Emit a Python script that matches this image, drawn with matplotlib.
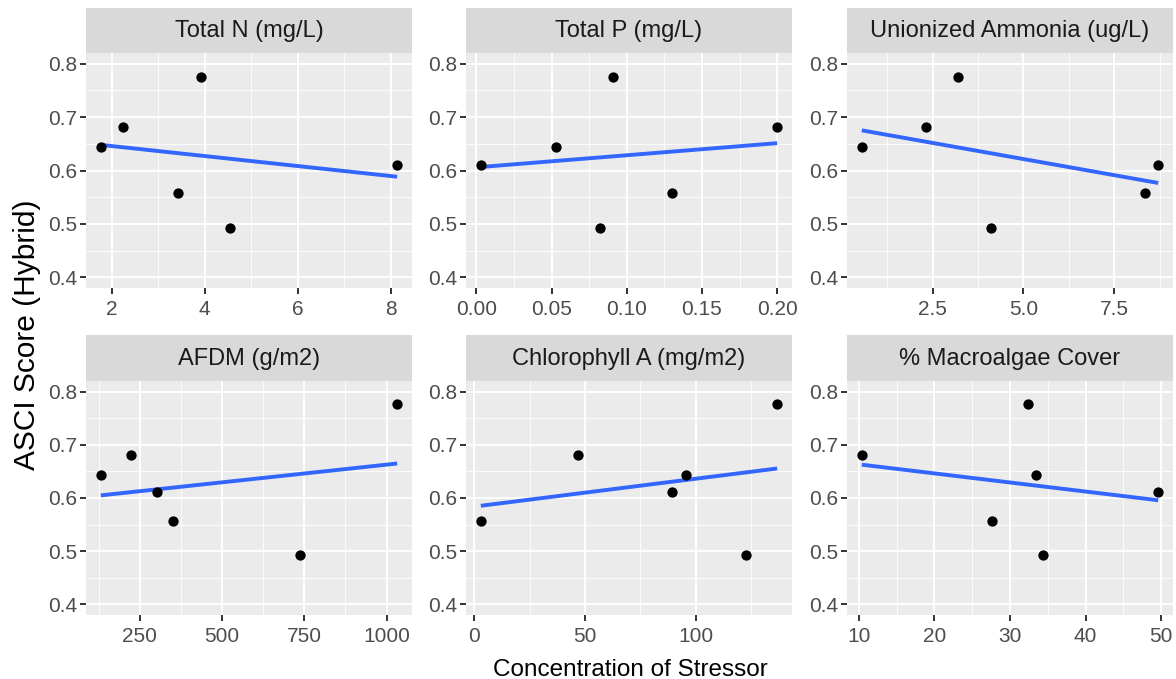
import numpy as np
import matplotlib
matplotlib.use("Agg")
import matplotlib.pyplot as plt
from matplotlib.ticker import MultipleLocator, FormatStrFormatter

plt.rcParams['font.family'] = ['Liberation Sans', 'DejaVu Sans']

# ASCI score for the six sites (same in every panel)
asci = [0.776, 0.681, 0.644, 0.611, 0.557, 0.493]

titles = ["Total N (mg/L)", "Total P (mg/L)", "Unionized Ammonia (ug/L)",
          "AFDM (g/m2)", "Chlorophyll A (mg/m2)", "% Macroalgae Cover"]

total_n = [3.93, 2.25, 1.77, 8.14, 3.43, 4.54]
total_p = [0.091, 0.200, 0.053, 0.003, 0.130, 0.082]
ammonia = [3.21, 2.33, 0.55, 8.71, 8.34, 4.10]
afdm = [1032, 225, 132, 304, 351, 736]
chl_a = [136.8, 46.9, 95.8, 89.2, 3.0, 122.6]
macro = [32.4, 10.4, 33.4, 49.6, 27.6, 34.3]

stressors = [total_n, total_p, ammonia, afdm, chl_a, macro]
tick_steps = [2, 0.05, 2.5, 250, 50, 10]
tick_fmts = ["%d", "%.2f", "%.1f", "%d", "%d", "%d"]

W, H = 1176, 679
fig = plt.figure(figsize=(W / 100, H / 100), dpi=100)

cols = [(86, 412), (466, 792), (847, 1173)]
rows = [(8, 53, 288), (335, 381, 615)]  # strip top, plot top, plot bottom

for i in range(6):
    r, c = divmod(i, 3)
    x0, x1 = cols[c]
    st, pt, pb = rows[r]
    ax = fig.add_axes([x0 / W, 1 - pb / H, (x1 - x0) / W, (pb - pt) / H])
    strip = fig.add_axes([x0 / W, 1 - pt / H, (x1 - x0) / W, (pt - st) / H])
    strip.set_facecolor("#D9D9D9")
    strip.set_xticks([]); strip.set_yticks([])
    for s in strip.spines.values():
        s.set_visible(False)
    strip.text(0.5, 0.48, titles[i], ha="center", va="center",
               fontsize=17, color="#1A1A1A", transform=strip.transAxes)

    x = np.array(stressors[i], dtype=float)
    y = np.array(asci)
    ax.set_facecolor("#EBEBEB")
    ax.scatter(x, y, s=55, color="black", zorder=3, linewidths=0)
    k, b = np.polyfit(x, y, 1)
    xs = np.array([x.min(), x.max()])
    ax.plot(xs, k * xs + b, color="#3366FF", lw=2.8, zorder=2,
            solid_capstyle="butt")

    rng = x.max() - x.min()
    ax.set_xlim(x.min() - 0.05 * rng, x.max() + 0.05 * rng)
    ax.set_ylim(0.38, 0.82)
    ax.xaxis.set_major_locator(MultipleLocator(tick_steps[i]))
    ax.xaxis.set_minor_locator(MultipleLocator(tick_steps[i] / 2))
    ax.xaxis.set_major_formatter(FormatStrFormatter(tick_fmts[i]))
    ax.yaxis.set_major_locator(MultipleLocator(0.1))
    ax.yaxis.set_minor_locator(MultipleLocator(0.05))
    ax.yaxis.set_major_formatter(FormatStrFormatter("%.1f"))

    ax.grid(which="major", color="white", lw=1.3)
    ax.grid(which="minor", color="white", lw=0.6)
    ax.set_axisbelow(True)
    for s in ax.spines.values():
        s.set_visible(False)
    ax.tick_params(which="major", length=4, width=1.4, color="#333333",
                   labelsize=15, labelcolor="#4D4D4D")
    ax.tick_params(axis="x", which="major", pad=4.5)
    ax.tick_params(axis="y", which="major", pad=2.5)
    ax.tick_params(which="minor", length=0)

fig.text(27 / W, 1 - 335 / H, "ASCI Score (Hybrid)", rotation=90,
         ha="center", va="center", fontsize=21.5)
fig.text(630 / W, 1 - 676 / H, "Concentration of Stressor",
         ha="center", va="baseline", fontsize=17.5)

fig.savefig("out.png", dpi=100)
